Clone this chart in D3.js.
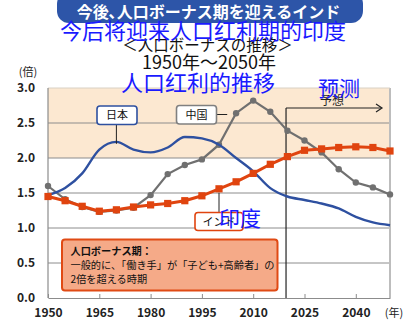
<!DOCTYPE html>
<html><head><meta charset="utf-8">
<script src="https://cdn.jsdelivr.net/npm/d3@7"></script>
<style>html,body{margin:0;padding:0;background:#fff;}svg{display:block;}</style>
</head><body>
<svg id="c" width="420" height="327"></svg>
<script>
const years = [1950,1955,1960,1965,1970,1975,1980,1985,1990,1995,2000,2005,2010,2015,2020,2025,2030,2035,2040,2045,2050];
const japan = [1.47,1.57,1.78,2.12,2.23,2.12,2.08,2.15,2.30,2.28,2.19,2.00,1.81,1.57,1.45,1.40,1.35,1.28,1.16,1.08,1.04];
const china = [1.60,1.41,1.30,1.23,1.25,1.29,1.47,1.77,1.90,1.98,2.19,2.64,2.82,2.66,2.39,2.25,2.08,1.84,1.65,1.58,1.48];
const india = [1.45,1.39,1.31,1.24,1.26,1.30,1.33,1.35,1.39,1.46,1.56,1.66,1.78,1.91,2.02,2.11,2.13,2.15,2.16,2.15,2.10];
const yTicks = [0,0.5,1.0,1.5,2.0,2.5,3.0];
const xTicks = [1950,1965,1980,1995,2010,2025,2040];
const bonusBand = [2.0,3.0];
const forecastStart = 2019.6;

const JP = '"Noto Sans CJK JP", sans-serif';
const SC = '"Noto Sans CJK SC", sans-serif';
const svg = d3.select('#c');
const x = d3.scaleLinear().domain([1950,2050]).range([48,390]);
const y = d3.scaleLinear().domain([0,3]).range([298,88]);

// bonus band
svg.append('rect').attr('x',x(1950)).attr('y',y(bonusBand[1])).attr('width',x(2050)-x(1950)).attr('height',y(bonusBand[0])-y(bonusBand[1])).attr('fill','#FCE8D1');

// gridlines
svg.append('g').selectAll('line').data(yTicks.filter(d=>d>0&&d<3)).join('line')
  .attr('x1',x(1950)).attr('x2',x(2050)).attr('y1',d=>y(d)).attr('y2',d=>y(d))
  .attr('stroke','#8c8c8c').attr('stroke-width',1);
// frame
svg.append('line').attr('x1',x(2050)).attr('x2',x(2050)).attr('y1',y(3)).attr('y2',y(0)).attr('stroke','#bdbdbd').attr('stroke-width',2);
svg.append('line').attr('x1',x(1950)).attr('x2',x(2050)).attr('y1',y(3)).attr('y2',y(3)).attr('stroke','#d8d0c4').attr('stroke-width',1);
svg.append('line').attr('x1',x(1950)).attr('x2',x(1950)).attr('y1',y(3)).attr('y2',y(0)).attr('stroke','#8c8c8c').attr('stroke-width',1.2);

// x axis
const xa = svg.append('g').attr('transform',`translate(0,${y(0)})`)
  .call(d3.axisBottom(x).tickValues(xTicks).tickFormat(d3.format('d')).tickSizeInner(-4).tickSizeOuter(0).tickPadding(10));
xa.select('.domain').attr('stroke','#8c8c8c').attr('stroke-width',1.2);
xa.selectAll('.tick line').attr('stroke','#8c8c8c');
xa.selectAll('text').attr('font-family',JP).attr('font-size',12).attr('font-weight','bold').attr('fill','#222');
svg.append('text').attr('x',394).attr('y',317).attr('text-anchor','middle').attr('font-family',JP).attr('font-size',11).attr('fill','#222').text('(年)');

// y axis labels
svg.append('g').selectAll('text').data(yTicks).join('text')
  .attr('x',35).attr('y',d=>y(d)+4).attr('text-anchor','end')
  .attr('font-family',JP).attr('font-size',12).attr('font-weight','bold').attr('fill','#222')
  .text(d=>d.toFixed(1));
svg.append('text').attr('x',28).attr('y',76).attr('text-anchor','middle').attr('font-family',JP).attr('font-size',11).attr('fill','#222').text('(倍)');

// forecast line + arrow
svg.append('line').attr('x1',x(forecastStart)).attr('x2',x(forecastStart)).attr('y1',108).attr('y2',y(0)).attr('stroke','#222').attr('stroke-width',1.2);
svg.append('line').attr('x1',x(forecastStart)).attr('x2',381).attr('y1',108).attr('y2',108).attr('stroke','#222').attr('stroke-width',1.2);
svg.append('path').attr('d','M376,104 L382,108 L376,112').attr('fill','none').attr('stroke','#222').attr('stroke-width',1.2);
svg.append('text').attr('x',332).attr('y',105).attr('text-anchor','middle').attr('font-family',JP).attr('font-size',12).attr('fill','#222').text('予想');

// series
const data = (arr)=>years.map((yr,i)=>[yr,arr[i]]);
svg.append('path').datum(data(china)).attr('fill','none').attr('stroke','#707070').attr('stroke-width',2.2)
  .attr('d',d3.line().x(d=>x(d[0])).y(d=>y(d[1])));
svg.append('g').selectAll('circle').data(data(china)).join('circle')
  .attr('cx',d=>x(d[0])).attr('cy',d=>y(d[1])).attr('r',3.2).attr('fill','#707070');
svg.append('path').datum(data(japan)).attr('fill','none').attr('stroke','#2E50A0').attr('stroke-width',2.4)
  .attr('d',d3.line().curve(d3.curveMonotoneX).x(d=>x(d[0])).y(d=>y(d[1])));
svg.append('path').datum(data(india)).attr('fill','none').attr('stroke','#E0440F').attr('stroke-width',3)
  .attr('d',d3.line().x(d=>x(d[0])).y(d=>y(d[1])));
svg.append('g').selectAll('rect').data(data(india)).join('rect')
  .attr('x',d=>x(d[0])-3.6).attr('y',d=>y(d[1])-3.6).attr('width',7.2).attr('height',7.2).attr('fill','#E0440F');

// annotation box
svg.append('rect').attr('x',62).attr('y',239.5).attr('width',215.5).attr('height',51).attr('rx',3)
  .attr('fill','#F5AA88').attr('stroke','#E04A14').attr('stroke-width',2);
const notes = ['人口ボーナス期：','一般的に、「働き手」が「子ども+高齢者」の','2倍を超える時期'];
svg.append('g').selectAll('text').data(notes).join('text')
  .attr('x',70.5).attr('y',(d,i)=>255+i*14).attr('font-family',JP).attr('font-size',10.2)
  .attr('font-weight',(d,i)=>i===0?'bold':'normal').attr('fill','#111').text(d=>d);

// labels
function label(x0,y0,w,h,col,txt){
  svg.append('rect').attr('x',x0).attr('y',y0).attr('width',w).attr('height',h).attr('rx',3)
    .attr('fill','#fff').attr('stroke',col).attr('stroke-width',1.6);
  svg.append('text').attr('x',x0+w/2).attr('y',y0+h/2+4).attr('text-anchor','middle')
    .attr('font-family',JP).attr('font-size',11).attr('fill','#111').text(txt);
}
svg.append('line').attr('x1',x(1970)).attr('x2',x(1970)).attr('y1',124).attr('y2',y(2.23)+2).attr('stroke','#222').attr('stroke-width',1);
label(97,106,40,18.5,'#2E50A0','日本');
svg.append('line').attr('x1',216.5).attr('x2',x(2002.4)).attr('y1',114.5).attr('y2',114.5).attr('stroke','#222').attr('stroke-width',1);
label(176.5,105.5,40,18.5,'#808080','中国');
svg.append('line').attr('x1',x(2000)).attr('x2',x(2000)).attr('y1',y(1.56)+4).attr('y2',212.5).attr('stroke','#222').attr('stroke-width',1);
label(195,212.5,48,18,'#E0440F','インド');

// title bar
svg.append('rect').attr('x',57).attr('y',-8).attr('width',306).attr('height',31).attr('rx',12).attr('fill','#2D55A8');
svg.append('text').attr('x',208.5).attr('y',18).attr('text-anchor','middle').attr('font-family',JP).attr('font-size',16).attr('font-weight','bold').attr('fill','#fff').text('今後､人口ボーナス期を迎えるインド');

// subtitles
svg.append('text').attr('x',207.5).attr('y',51).attr('text-anchor','middle').attr('font-family',JP).attr('font-size',15.5).attr('fill','#111').text('＜人口ボーナスの推移＞');
svg.append('text').attr('x',209).attr('y',69).attr('text-anchor','middle').attr('font-family',JP).attr('font-size',18).attr('fill','#111').text('1950年～2050年');

// blue overlay (Chinese)
const blue = '#1a1aff';
svg.append('text').attr('x',203).attr('y',39).attr('text-anchor','middle').attr('font-family',SC).attr('font-size',22).attr('fill',blue).text('今后将迎来人口红利期的印度');
svg.append('text').attr('x',198).attr('y',91).attr('text-anchor','middle').attr('font-family',SC).attr('font-size',22).attr('fill',blue).text('人口红利的推移');
svg.append('text').attr('x',339).attr('y',96).attr('text-anchor','middle').attr('font-family',SC).attr('font-size',21).attr('fill',blue).text('预测');
svg.append('text').attr('x',240).attr('y',226).attr('text-anchor','middle').attr('font-family',SC).attr('font-size',21).attr('fill',blue).text('印度');
</script>
</body></html>
